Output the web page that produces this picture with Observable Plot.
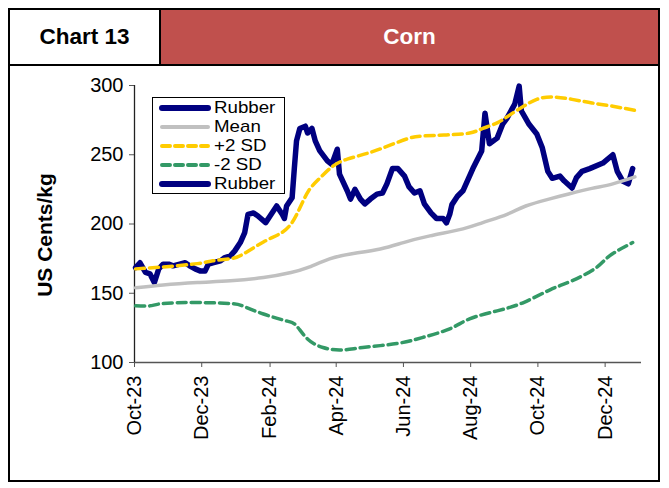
<!DOCTYPE html>
<html><head><meta charset="utf-8">
<script src="https://cdn.jsdelivr.net/npm/d3@7"></script>
<script src="https://cdn.jsdelivr.net/npm/@observablehq/plot@0.6"></script>
<style>
html,body{margin:0;padding:0;background:#fff}
body{width:669px;height:488px;position:relative;overflow:hidden;font-family:"Liberation Sans",Arial,sans-serif}
#frame{position:absolute;left:8px;top:8px;width:652px;height:474px;border:2px solid #000;box-sizing:border-box;pointer-events:none;z-index:3}
#hdrline{position:absolute;left:8px;top:64px;width:652px;height:2px;background:#000;z-index:3}
#cell1{position:absolute;left:10px;top:10px;width:149px;height:54px;border-right:2px solid #000;display:flex;align-items:center;justify-content:center;font-weight:bold;font-size:22.5px;color:#000;z-index:2}
#cell2{position:absolute;left:161px;top:10px;width:497px;height:54px;background:#C0504D;display:flex;align-items:center;justify-content:center;font-weight:bold;font-size:22.5px;color:#fff;z-index:2}
#chart{position:absolute;left:0;top:0;z-index:1}
#legend{position:absolute;left:152px;top:97px;width:133px;height:97px;border:1px solid #000;background:#fff;box-sizing:border-box;z-index:2;padding-top:0px}
#legend .row{height:19px;display:flex;align-items:center;font-size:17px;line-height:19px;color:#000}
#legend span{display:inline-block;transform:scaleX(1.1);transform-origin:0 50%}
#legend svg{margin-left:6px;margin-right:3px;flex:none}
</style>
</head><body>
<div id="frame"></div>
<div id="hdrline"></div>
<div id="cell1">Chart 13</div>
<div id="cell2">Corn</div>
<div id="chart"></div>
<div id="legend"></div>
<script>
// ---- data ----
const rubberDates = ["2023-10-02","2023-10-06","2023-10-11","2023-10-15","2023-10-19","2023-10-23","2023-10-27","2023-11-01","2023-11-05","2023-11-11","2023-11-16","2023-11-20","2023-11-25","2023-11-30","2023-12-04","2023-12-07","2023-12-11","2023-12-18","2023-12-22","2023-12-27","2023-12-31","2024-01-05","2024-01-09","2024-01-12","2024-01-17","2024-01-21","2024-01-28","2024-02-01","2024-02-07","2024-02-12","2024-02-14","2024-02-16","2024-02-21","2024-02-23","2024-02-25","2024-02-28","2024-03-04","2024-03-06","2024-03-10","2024-03-13","2024-03-17","2024-03-24","2024-03-28","2024-04-02","2024-04-04","2024-04-11","2024-04-14","2024-04-18","2024-04-23","2024-04-27","2024-05-02","2024-05-08","2024-05-13","2024-05-17","2024-05-22","2024-05-27","2024-06-02","2024-06-06","2024-06-11","2024-06-16","2024-06-20","2024-06-26","2024-07-01","2024-07-07","2024-07-10","2024-07-13","2024-07-15","2024-07-20","2024-07-25","2024-08-03","2024-08-11","2024-08-14","2024-08-18","2024-08-25","2024-08-30","2024-09-03","2024-09-10","2024-09-14","2024-09-16","2024-09-23","2024-09-30","2024-10-05","2024-10-10","2024-10-14","2024-10-21","2024-10-25","2024-11-01","2024-11-05","2024-11-10","2024-11-17","2024-11-29","2024-12-08","2024-12-12","2024-12-17","2024-12-22","2024-12-26"];
const rubberValues = [168.5,172,165,164,157.7,167.6,171,171,169.8,171,172,169.8,167.6,166,166,171,172,173.4,175.8,177,180.6,186.6,193.8,207,208,205.8,201,205.8,213,207,204,213,219,240,260,269,270.6,265.7,269,260,253,245.6,243,254,236,224,218,225,218,214.5,218,221.6,222.4,229,240,240,234.6,227,222.4,224,214.5,208,204,204,200.8,207,214,220,224,240,252.7,280,258,262,272,276.5,286.6,299.6,281.6,272,265,255,238,233,234.6,231,226,233.5,238,240,244,250,238,231,229,240];

const meanDates = ["2023-10-02","2023-10-27","2023-11-27","2023-12-27","2024-01-26","2024-02-20","2024-03-06","2024-03-26","2024-04-14","2024-05-11","2024-06-01","2024-06-25","2024-07-25","2024-08-12","2024-09-03","2024-09-20","2024-10-11","2024-10-29","2024-11-19","2024-12-08","2024-12-28"];
const meanValues = [153.9,156,157.7,159,161.3,165,168.5,174.8,178.4,182,186.6,191.4,196.5,201,207,213,218,221.7,225.7,229,234];

const plusDates = ["2023-10-02","2023-10-27","2023-11-27","2023-12-11","2023-12-27","2024-01-07","2024-01-26","2024-02-10","2024-02-20","2024-02-28","2024-03-07","2024-03-17","2024-03-29","2024-04-11","2024-04-29","2024-05-17","2024-06-04","2024-06-18","2024-07-10","2024-07-31","2024-08-12","2024-08-25","2024-09-06","2024-09-18","2024-09-30","2024-10-14","2024-11-01","2024-11-19","2024-12-08","2024-12-28"];
const plusValues = [167.6,169,171.4,173.4,175,178,187,193,200,211.5,224,233,241.8,246.8,251,256,261.4,263.5,264.3,265.7,269,273,279,285,290,291.7,290,287.4,285,282];

const minusDates = ["2023-10-02","2023-10-15","2023-10-27","2023-11-27","2023-12-27","2024-01-07","2024-01-26","2024-02-16","2024-02-25","2024-03-06","2024-03-20","2024-04-05","2024-04-25","2024-05-26","2024-06-18","2024-07-13","2024-07-31","2024-08-25","2024-09-18","2024-10-12","2024-11-01","2024-11-23","2024-12-05","2024-12-26"];
const minusValues = [140.9,140.9,142.6,143.3,142.6,140.9,135,130,126.5,117,110.8,109,110.8,113.7,118,124.3,131.5,137.3,143.3,152.5,159,168.5,177,186.6];

const xTickDates = ["2023-10-01","2023-12-01","2024-02-01","2024-04-01","2024-06-01","2024-08-01","2024-10-01","2024-12-01"];
const xTickLabels = ["Oct-23","Dec-23","Feb-24","Apr-24","Jun-24","Aug-24","Oct-24","Dec-24"];
const yTicks = [100,150,200,250,300];
const seriesNames = ["Rubber","Mean","+2 SD","-2 SD","Rubber"];

// ---- build ----
const toRows = (ds, vs) => ds.map((d, i) => ({date: new Date(d), value: vs[i]}));
const rubber = toRows(rubberDates, rubberValues);
const mean = toRows(meanDates, meanValues);
const plus = toRows(plusDates, plusValues);
const minus = toRows(minusDates, minusValues);
const tickDates = xTickDates.map(d => new Date(d));
const labelFor = new Map(tickDates.map((d, i) => [+d, xTickLabels[i]]));

const C = {rubber: "#000080", mean: "#C0C0C0", plus: "#FFCC00", minus: "#339966"};

const chart = Plot.plot({
  width: 669, height: 488,
  marginLeft: 134, marginRight: 28, marginTop: 85, marginBottom: 126,
  style: {fontFamily: "'Liberation Sans', Arial, sans-serif", background: "transparent", overflow: "visible"},
  x: {type: "utc", domain: [new Date("2023-10-01"), new Date("2025-01-03")]},
  y: {domain: [100, 300]},
  marks: [
    Plot.axisY({ticks: yTicks, tickSize: 5, tickPadding: 6, fontSize: 20, stroke: "#555", label: null, tickFormat: d => String(d)}),
    Plot.axisX({ticks: tickDates, tickFormat: d => labelFor.get(+d), tickRotate: -90, tickSize: 5, tickPadding: 8, fontSize: 20, stroke: "#555", label: null}),
    Plot.ruleY([100], {stroke: "#555", strokeWidth: 1.3}),
    Plot.ruleX([new Date("2023-10-01")], {stroke: "#222", strokeWidth: 1.3}),
    Plot.line(rubber, {x: "date", y: "value", stroke: C.rubber, strokeWidth: 5.5, strokeLinejoin: "round", strokeLinecap: "round"}),
    Plot.line(mean, {x: "date", y: "value", stroke: C.mean, strokeWidth: 3.5, curve: "natural"}),
    Plot.line(plus, {x: "date", y: "value", stroke: C.plus, strokeWidth: 3.5, strokeDasharray: "9,5", strokeLinecap: "round", curve: "natural"}),
    Plot.line(minus, {x: "date", y: "value", stroke: C.minus, strokeWidth: 3.5, strokeDasharray: "9,5", strokeLinecap: "round", curve: "natural"}),
    Plot.text(["US Cents/kg"], {frameAnchor: "left", dx: -89, dy: 11, rotate: -90, fontSize: 21, fontWeight: "bold", fill: "#000", textAnchor: "middle"})
  ]
});
document.getElementById("chart").appendChild(chart);

// ---- legend ----
const legendStyles = [
  {color: C.rubber, w: 6, dash: null},
  {color: C.mean, w: 4, dash: null},
  {color: C.plus, w: 4, dash: "8,5"},
  {color: C.minus, w: 4, dash: "8,5"},
  {color: C.rubber, w: 6, dash: null}
];
const leg = document.getElementById("legend");
seriesNames.forEach((name, i) => {
  const s = legendStyles[i];
  const row = document.createElement("div");
  row.className = "row";
  row.innerHTML = `<svg width="52" height="10"><line x1="3" y1="5" x2="49" y2="5" stroke="${s.color}" stroke-width="${s.w}" stroke-linecap="round" ${s.dash ? `stroke-dasharray="${s.dash}"` : ""}/></svg><span>${name}</span>`;
  leg.appendChild(row);
});
</script>
</body></html>
